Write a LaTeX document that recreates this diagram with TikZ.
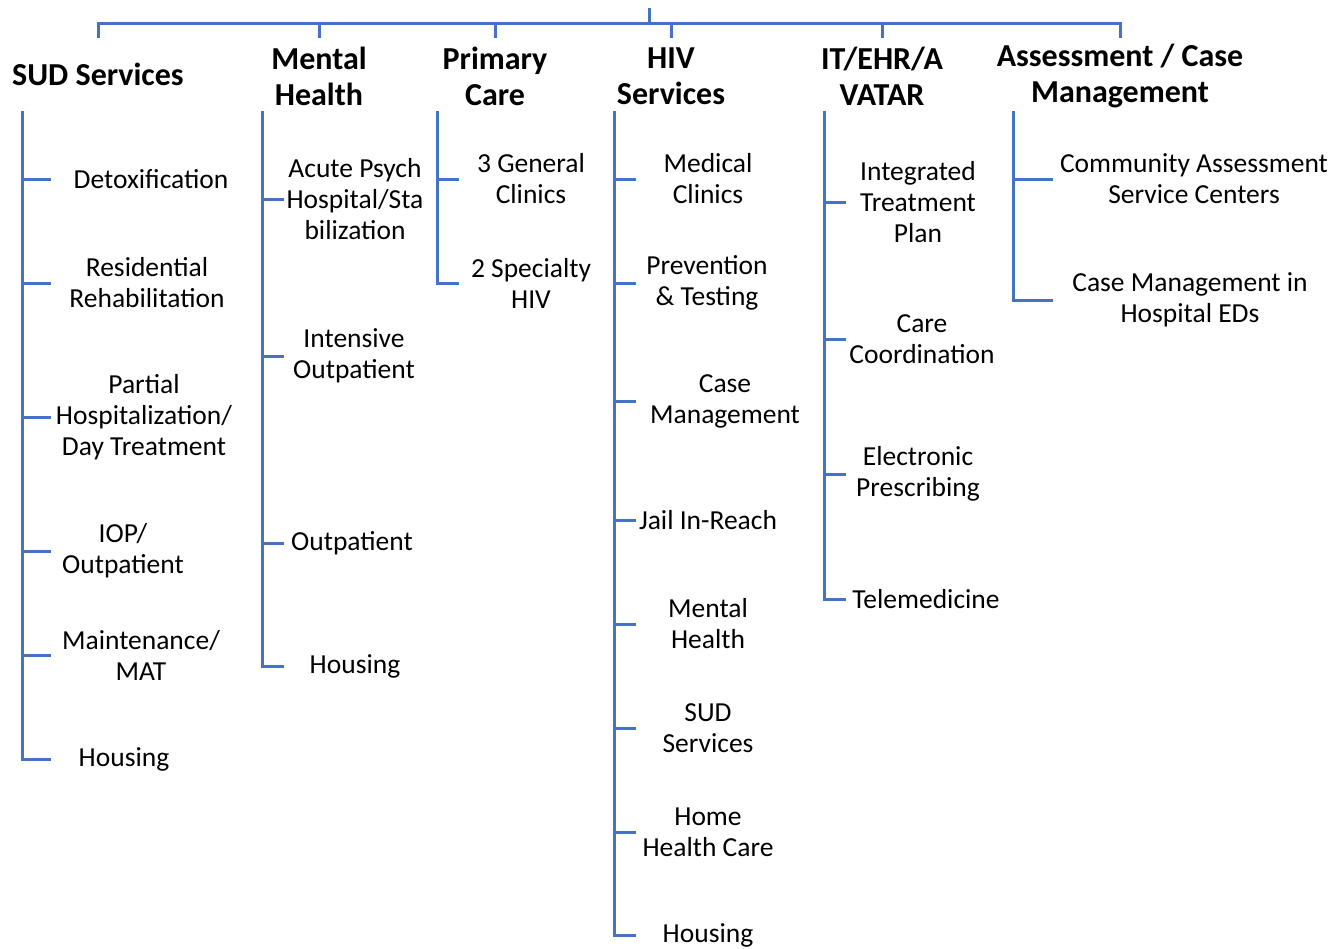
\documentclass[tikz,border=0pt]{standalone}
\usepackage{fontspec}
\setmainfont{Carlito}
\usepackage{tikz}
\usetikzlibrary{calc}
\definecolor{linkblue}{HTML}{4472C4}
\tikzset{
  link/.style={draw=linkblue, line width=3pt},
  head/.style={font=\fontsize{32}{36}\selectfont\bfseries, align=center, inner sep=0pt, yshift=-2pt},
  item/.style={font=\fontsize{27.5}{31}\selectfont, align=center, inner sep=0pt},
}
\begin{document}
\begin{tikzpicture}[x=1pt,y=-1pt]
\useasboundingbox (0,0) rectangle (1337,948);
% headers
\coordinate (root) at (649,8); \coordinate (bar) at (649,23);
\node[head] (sud) at (98,72) {SUD Services};
\node[head] (mh) at (319,74) {Mental\\Health};
\node[head] (pc) at (495,74) {Primary\\Care};
\node[head] (hiv) at (671,74) {HIV\\Services};
\node[head] (it) at (882,74) {IT/EHR/A\\VATAR};
\node[head] (asm) at (1120,74) {Assessment / Case\\Management};
\draw[link] (root)--(bar);
\draw[link] ($(bar -| sud)+(0,15)$)--(bar -| sud)--(bar -| asm)--++(0,15);
\draw[link] (bar -| mh)--++(0,15); \draw[link] (bar -| pc)--++(0,15);
\draw[link] (bar -| hiv)--++(0,15); \draw[link] (bar -| it)--++(0,15);
% SUD services
\coordinate (sudT) at (22,111);
\node[item] (sud1) at (151,179) {Detoxification};
\node[item] (sud2) at (147,283) {Residential\\Rehabilitation};
\node[item] (sud3) at (144,417) {Partial\\Hospitalization/\\Day Treatment};
\node[item] (sud4) at (123,551) {IOP/\\Outpatient};
\node[item] (sud5) at (141,655) {Maintenance/\\MAT};
\node[item] (sud6) at (124,759) {Housing};
\draw[link] (sudT)--(sudT |- sud6)--++(29,0);
\draw[link] (sudT |- sud1)--++(29,0); \draw[link] (sudT |- sud2)--++(29,0);
\draw[link] (sudT |- sud3)--++(29,0); \draw[link] (sudT |- sud4)--++(29,0);
\draw[link] (sudT |- sud5)--++(29,0);
% mental health
\coordinate (mhT) at (262,111);
\node[item] (mh1) at (355,199) {Acute Psych\\Hospital/Sta\\bilization};
\node[item] (mh2) at (354,356) {Intensive\\Outpatient};
\node[item] (mh3) at (352,543) {Outpatient};
\node[item] (mh4) at (355,666) {Housing};
\draw[link] (mhT)--(mhT |- mh4)--++(22,0);
\draw[link] (mhT |- mh1)--++(22,0); \draw[link] (mhT |- mh2)--++(22,0);
\draw[link] (mhT |- mh3)--++(22,0);
% primary care
\coordinate (pcT) at (437,111);
\node[item] (pc1) at (531,179) {3 General\\Clinics};
\node[item] (pc2) at (531,283) {2 Specialty\\HIV};
\draw[link] (pcT)--(pcT |- pc2)--++(22,0);
\draw[link] (pcT |- pc1)--++(22,0);
% HIV services
\coordinate (hivT) at (614,111);
\node[item] (hiv1) at (708,179) {Medical\\Clinics};
\node[item] (hiv2) at (707,283) {Prevention\\\& Testing};
\node[item] (hiv3) at (725,401) {Case\\Management};
\node[item] (hiv4) at (708,520) {Jail In-Reach};
\node[item] (hiv5) at (708,624) {Mental\\Health};
\node[item] (hiv6) at (708,728) {SUD\\Services};
\node[item] (hiv7) at (708,832) {Home\\Health Care};
\node[item] (hiv8) at (708,935) {Housing};
\draw[link] (hivT)--(hivT |- hiv8)--++(22,0);
\draw[link] (hivT |- hiv1)--++(22,0); \draw[link] (hivT |- hiv2)--++(22,0);
\draw[link] (hivT |- hiv3)--++(22,0); \draw[link] (hivT |- hiv4)--++(22,0);
\draw[link] (hivT |- hiv5)--++(22,0); \draw[link] (hivT |- hiv6)--++(22,0);
\draw[link] (hivT |- hiv7)--++(22,0);
% IT / EHR
\coordinate (itT) at (824,111);
\node[item] (it1) at (918,202) {Integrated\\Treatment\\Plan};
\node[item] (it2) at (922,339) {Care\\Coordination};
\node[item] (it3) at (918,474) {Electronic\\Prescribing};
\node[item] (it4) at (926,599) {Telemedicine};
\draw[link] (itT)--(itT |- it4)--++(22,0);
\draw[link] (itT |- it1)--++(22,0); \draw[link] (itT |- it2)--++(22,0);
\draw[link] (itT |- it3)--++(22,0);
% assessment / case management
\coordinate (asmT) at (1013,111);
\node[item] (asm1) at (1194,179) {Community Assessment\\Service Centers};
\node[item] (asm2) at (1190,300) {Case Management in\\Hospital EDs};
\draw[link] (asmT)--(asmT |- asm2)--++(40,0);
\draw[link] (asmT |- asm1)--++(40,0);
\end{tikzpicture}
\end{document}
